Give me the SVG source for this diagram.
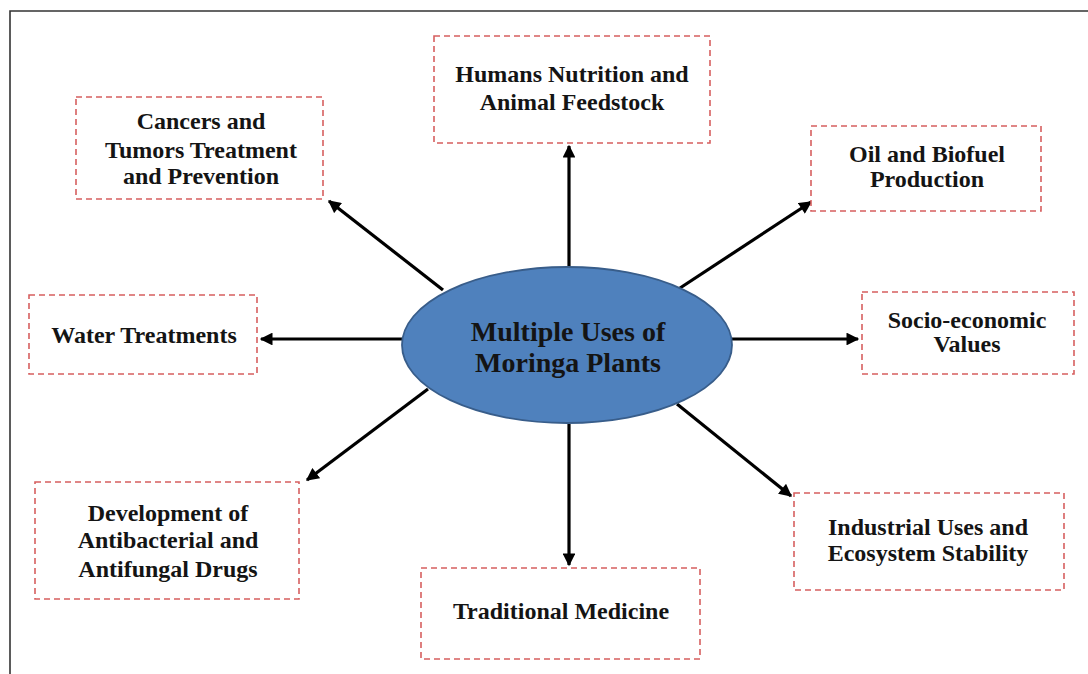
<svg xmlns="http://www.w3.org/2000/svg" width="1088" height="674" viewBox="0 0 1088 674">
  <style>
    .box { fill: #ffffff; stroke: #d65f5f; stroke-width: 1.6; stroke-dasharray: 6 4; }
    .lbl { font-family: "Liberation Serif", "Times New Roman", serif; font-weight: bold; font-size: 24px; fill: #141414; text-anchor: middle; }
    .hub { font-size: 28px; }
    .conn { stroke: #000; stroke-width: 3.2; fill: none; marker-end: url(#head); }
  </style>
  <defs>
    <marker id="head" viewBox="0 0 10 10" refX="9" refY="5" markerWidth="4.2" markerHeight="4" orient="auto" markerUnits="strokeWidth">
      <path d="M0,0 L10,5 L0,10 Z" fill="#000"/>
    </marker>
  </defs>

  <rect width="1088" height="674" fill="#ffffff"/>
  <!-- page frame -->
  <path d="M10,674 V11 H1088" fill="none" stroke="#333" stroke-width="1.6"/>

  <g id="connectors">
    <line class="conn" x1="569" y1="268" x2="569" y2="146"/>
    <line class="conn" x1="443" y1="290" x2="329" y2="201"/>
    <line class="conn" x1="677" y1="290" x2="811" y2="202"/>
    <line class="conn" x1="732" y1="339" x2="858" y2="339"/>
    <line class="conn" x1="402" y1="339" x2="261" y2="339"/>
    <line class="conn" x1="428" y1="389" x2="307" y2="480"/>
    <line class="conn" x1="569" y1="424" x2="569" y2="565"/>
    <line class="conn" x1="677" y1="404" x2="791" y2="496"/>
  </g>

  <g id="hub">
    <ellipse cx="567" cy="345" rx="165" ry="78" fill="#4f81bd" stroke="#385d8a" stroke-width="1.8"/>
    <text class="lbl hub" x="568" y="341">Multiple Uses of</text>
    <text class="lbl hub" x="568" y="372">Moringa Plants</text>
  </g>

  <g id="nutrition">
    <rect class="box" x="434" y="36" width="276" height="107"/>
    <text class="lbl" x="572" y="82">Humans Nutrition and</text>
    <text class="lbl" x="572" y="110">Animal Feedstock</text>
  </g>

  <g id="cancer">
    <rect class="box" x="76" y="97" width="247" height="102"/>
    <text class="lbl" x="201" y="129">Cancers and</text>
    <text class="lbl" x="201" y="158">Tumors Treatment</text>
    <text class="lbl" x="201" y="184">and Prevention</text>
  </g>

  <g id="biofuel">
    <rect class="box" x="811" y="126" width="230" height="85"/>
    <text class="lbl" x="927" y="162">Oil and Biofuel</text>
    <text class="lbl" x="927" y="187">Production</text>
  </g>

  <g id="socioeconomic">
    <rect class="box" x="862" y="292" width="212" height="82"/>
    <text class="lbl" x="967" y="328">Socio-economic</text>
    <text class="lbl" x="967" y="352">Values</text>
  </g>

  <g id="water">
    <rect class="box" x="29" y="295" width="228" height="79"/>
    <text class="lbl" x="144" y="343">Water Treatments</text>
  </g>

  <g id="antimicrobial">
    <rect class="box" x="35" y="482" width="264" height="117"/>
    <text class="lbl" x="168" y="521">Development of</text>
    <text class="lbl" x="168" y="548">Antibacterial and</text>
    <text class="lbl" x="168" y="577">Antifungal Drugs</text>
  </g>

  <g id="medicine">
    <rect class="box" x="421" y="568" width="279" height="91"/>
    <text class="lbl" x="561" y="619">Traditional Medicine</text>
  </g>

  <g id="industrial">
    <rect class="box" x="794" y="493" width="270" height="97"/>
    <text class="lbl" x="928" y="535">Industrial Uses and</text>
    <text class="lbl" x="928" y="561">Ecosystem Stability</text>
  </g>
</svg>
